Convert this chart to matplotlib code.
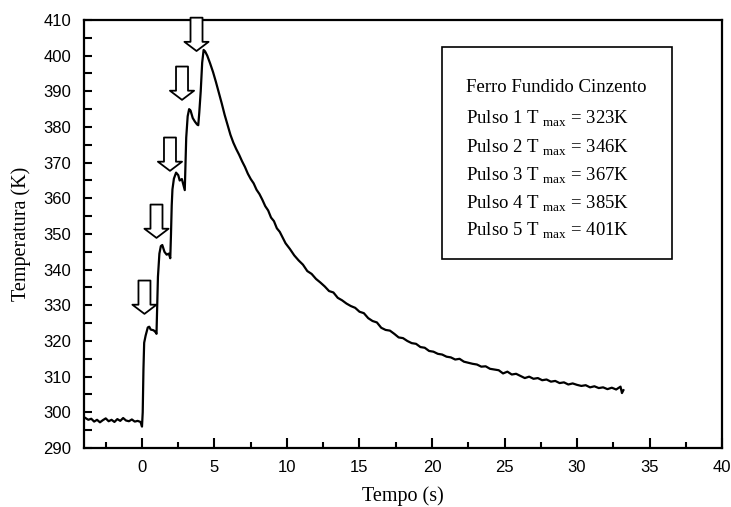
'''
Temperature response of grey cast iron to five successive pulses.
'''

import matplotlib
matplotlib.use('Agg')
import matplotlib.pyplot as plt
from matplotlib.patches import Rectangle
from matplotlib.ticker import MultipleLocator

plt.rcParams['font.family'] = 'Liberation Sans'
plt.rcParams['mathtext.fontset'] = 'custom'
plt.rcParams['mathtext.rm'] = 'Liberation Serif'

time_s = [
	-3.9, -3.7, -3.5, -3.3, -3.1, -2.9, -2.7, -2.5, -2.3, -2.1, -1.9, -1.7, -1.5, -1.3,
	-1.1, -0.9, -0.7, -0.5, -0.3, -0.1, 0.0,
	0.05, 0.1, 0.15, 0.25, 0.4, 0.5, 0.6, 0.8, 0.95, 1.0,
	1.05, 1.1, 1.2, 1.3, 1.4, 1.55, 1.7, 1.85, 1.95,
	2.0, 2.05, 2.1, 2.2, 2.35, 2.5, 2.6, 2.75, 2.9, 2.95,
	3.0, 3.05, 3.15, 3.25, 3.35, 3.5, 3.65, 3.8, 3.88,
	3.95, 4.05, 4.15, 4.25, 4.35,
	4.5, 4.7, 4.9, 5.1, 5.3, 5.5, 5.7, 5.9, 6.1, 6.3, 6.5, 6.7, 6.9, 7.1, 7.3, 7.5,
	7.7, 7.9, 8.1, 8.3, 8.5, 8.7, 8.9, 9.1, 9.3, 9.5, 9.7, 9.9,
	10.2, 10.5, 10.8, 11.1, 11.4, 11.7, 12.0, 12.3, 12.6, 12.9, 13.2, 13.5, 13.8,
	14.1, 14.4, 14.7, 15.0, 15.3, 15.6, 15.9, 16.2, 16.5, 16.8, 17.1, 17.4, 17.7,
	18.0, 18.3, 18.6, 18.9, 19.2, 19.5, 19.8, 20.1, 20.4, 20.7, 21.0, 21.3, 21.6,
	21.9, 22.2, 22.5, 22.8, 23.1, 23.4, 23.7, 24.0, 24.3, 24.6, 24.9, 25.2, 25.5,
	25.8, 26.1, 26.4, 26.7, 27.0, 27.3, 27.6, 27.9, 28.2, 28.5, 28.8, 29.1, 29.4,
	29.7, 30.0, 30.3, 30.6, 30.9, 31.2, 31.5, 31.8, 32.1, 32.4, 32.7, 33.0, 33.1, 33.2,
]
temp_K = [
	298.4, 297.9, 298.2, 297.4, 297.9, 297.2, 297.8, 298.3, 297.5, 297.9, 297.3, 298.1, 297.6, 298.4,
	297.7, 297.5, 298.0, 297.4, 297.6, 297.3, 296.0,
	300.0, 312.0, 319.5, 321.5, 323.8, 324.0, 323.2, 323.0, 322.4, 322.0,
	330.0, 338.0, 344.5, 346.6, 346.9, 345.0, 344.2, 344.5, 343.2,
	350.0, 358.0, 362.5, 365.5, 367.2, 366.5, 365.0, 365.4, 363.0, 362.3,
	370.0, 377.0, 383.0, 385.0, 384.6, 382.5, 381.5, 380.7, 380.5,
	384.0, 390.0, 398.0, 401.6, 401.2,
	400.0, 397.8, 395.4, 392.6, 389.6, 386.6, 383.4, 380.6, 377.8, 375.6, 373.8, 372.2, 370.4, 368.8, 366.9, 365.4,
	364.2, 362.4, 361.2, 359.6, 357.8, 356.6, 354.6, 353.6, 351.6, 350.6, 349.0, 347.4,
	345.8, 344.0, 342.6, 341.4, 339.6, 338.8, 337.4, 336.4, 335.3, 334.0, 333.6, 332.1, 331.4,
	330.5, 329.8, 329.3, 328.2, 327.8, 326.4, 325.6, 325.2, 323.7, 323.1, 322.9, 322.0, 321.0,
	320.8, 320.0, 319.4, 319.2, 318.3, 318.1, 317.2, 317.0, 316.4, 316.2, 315.6, 315.4, 314.8,
	315.0, 314.2, 313.9, 313.6, 313.4, 312.8, 312.9, 312.2, 312.0, 311.8, 310.9, 311.4, 310.6,
	310.8, 310.2, 309.6, 310.0, 309.4, 309.6, 309.0, 309.2, 308.6, 308.8, 308.2, 308.4, 307.8,
	308.1, 307.7, 307.4, 307.6, 307.0, 307.3, 306.8, 307.0, 306.5, 306.9, 306.4, 307.2, 305.4, 306.2,
]

# Pulse markers (arrow tip position) and legend values
pulse_time = [0.17, 1.0, 1.93, 2.76, 3.76]
pulse_tip = [327.6, 348.9, 367.7, 387.6, 401.3]
pulse_tmax = [323, 346, 367, 385, 401]
material = 'Ferro Fundido Cinzento'

fig = plt.figure(figsize=(7.31, 5.07), dpi=100)
ax = fig.add_axes([0.1149, 0.1164, 0.8728, 0.8442])

ax.plot(time_s, temp_K, color='black', lw=1.6, zorder=3)

# hollow arrows pointing at each pulse
for x, y in zip(pulse_time, pulse_tip):
	ax.annotate('', xy=(x, y), xytext=(0, 24), textcoords='offset points',
		arrowprops=dict(arrowstyle='simple,head_length=0.55,head_width=1.45,tail_width=0.72',
			mutation_scale=12, fc='white', ec='black', lw=1.3, shrinkA=0, shrinkB=0),
		annotation_clip=False, zorder=5)

ax.set_xlim(-4, 40)
ax.set_ylim(290, 410)
ax.xaxis.set_major_locator(MultipleLocator(5))
ax.xaxis.set_minor_locator(MultipleLocator(2.5))
ax.yaxis.set_major_locator(MultipleLocator(10))
ax.yaxis.set_minor_locator(MultipleLocator(5))
ax.tick_params(which='both', direction='in', width=1.5, labelsize=12, pad=9)
ax.tick_params(axis='x', which='major', length=7)
ax.tick_params(axis='x', which='minor', length=4.5)
ax.tick_params(axis='y', which='both', length=6)
for spine in ax.spines.values():
	spine.set_linewidth(1.6)

ax.set_xlabel('Tempo (s)', family='Liberation Serif', fontsize=14.5, labelpad=8)
ax.set_ylabel('Temperatura (K)', family='Liberation Serif', fontsize=14.5, labelpad=9)

# legend box with pulse maxima
ax.add_patch(Rectangle((0.561, 0.4416), 0.3606, 0.4954, transform=ax.transAxes,
	fill=False, ec='black', lw=1.2, zorder=4))
lines = [material] + [f'Pulso {i} T $_{{\\mathrm{{max}}}}$ = {t}K' for i, t in enumerate(pulse_tmax, 1)]
line_y = [0.842, 0.770, 0.702, 0.636, 0.571, 0.508]
for text, y in zip(lines, line_y):
	ax.text(0.599, y, text, transform=ax.transAxes, family='Liberation Serif',
		fontsize=13.5, ha='left', va='center')

fig.savefig('out.png', dpi=100)
